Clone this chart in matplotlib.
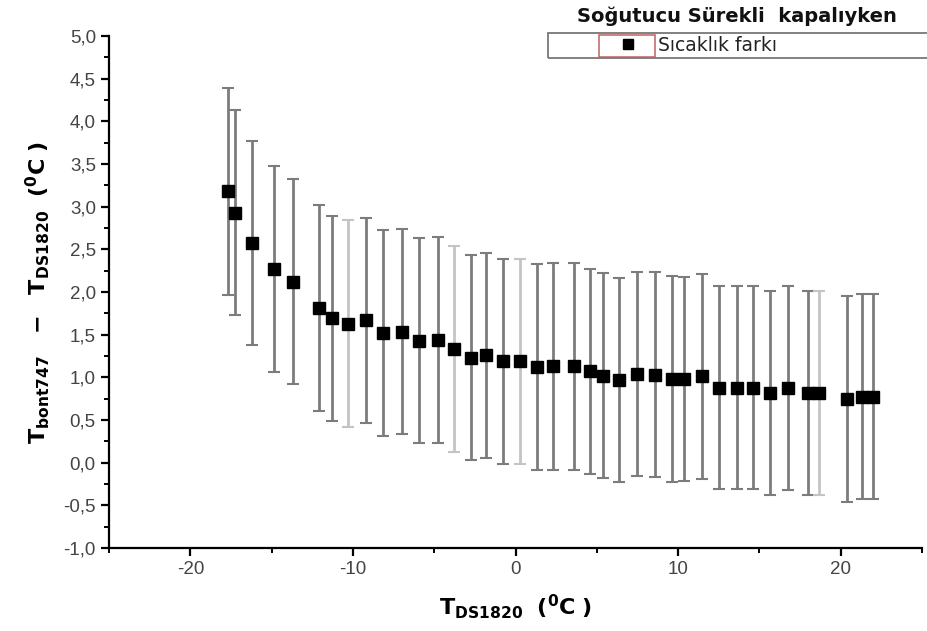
import numpy as np
import matplotlib.pyplot as plt
from matplotlib.ticker import MultipleLocator, FuncFormatter
from matplotlib.patches import Rectangle

plt.rcParams['mathtext.fontset'] = 'custom'
plt.rcParams['mathtext.bf'] = 'DejaVu Sans:bold'
plt.rcParams['mathtext.rm'] = 'DejaVu Sans:bold'

# T_DS1820 (C) and temperature difference
t_ds = [-17.7, -17.28, -16.2, -14.85, -13.67, -12.1, -11.27, -10.28, -9.18, -8.13,
        -6.96, -5.93, -4.75, -3.77, -2.73, -1.81, -0.78, 0.25, 1.35, 2.3,
        3.6, 4.61, 5.39, 6.36, 7.49, 8.58, 9.61, 10.37, 11.46, 12.5,
        13.62, 14.59, 15.68, 16.75, 17.99, 18.66, 20.37, 21.34, 22.0]
fark = [3.18, 2.93, 2.575, 2.27, 2.12, 1.81, 1.69, 1.63, 1.67, 1.52,
        1.535, 1.43, 1.44, 1.33, 1.23, 1.26, 1.19, 1.19, 1.12, 1.13,
        1.13, 1.07, 1.02, 0.97, 1.04, 1.03, 0.98, 0.98, 1.01, 0.88,
        0.88, 0.88, 0.82, 0.87, 0.82, 0.82, 0.745, 0.775, 0.775]
hata = [1.21, 1.205, 1.2, 1.21, 1.2, 1.205, 1.205, 1.21, 1.2, 1.205,
        1.2, 1.205, 1.205, 1.205, 1.2, 1.2, 1.2, 1.2, 1.21, 1.21,
        1.21, 1.2, 1.2, 1.195, 1.2, 1.2, 1.205, 1.195, 1.2, 1.19,
        1.19, 1.19, 1.195, 1.195, 1.195, 1.195, 1.21, 1.2, 1.2]

x = np.array(t_ds)
y = np.array(fark)
e = np.array(hata)

# a few bars are drawn fainter in the original
soluk = np.zeros(len(x), dtype=bool)
soluk[[7, 13, 17, 35]] = True

fig = plt.figure(figsize=(9.28, 6.31), dpi=100)
ax = fig.add_axes([0.1175, 0.1315, 0.876, 0.8115])

for mask, bar_c, cap_c in [(~soluk, '#7c7c7c', '#3a3a3a'), (soluk, '#c4c4c4', '#9a9a9a')]:
    eb = ax.errorbar(x[mask], y[mask], yerr=e[mask], fmt='none', ecolor=bar_c,
                     elinewidth=2.0, capsize=4.5, capthick=1.5)
    for cl in eb[1]:
        cl.set_color(cap_c)

ax.plot(x, y, 's', color='black', markersize=9, label='Sıcaklık farkı', zorder=5)

ax.set_xlim(-25, 25)
ax.set_ylim(-1, 5)
ax.xaxis.set_major_locator(MultipleLocator(10))
ax.xaxis.set_minor_locator(MultipleLocator(5))
ax.yaxis.set_major_locator(MultipleLocator(0.5))
ax.yaxis.set_minor_locator(MultipleLocator(0.25))
ax.yaxis.set_major_formatter(FuncFormatter(lambda v, p: f'{v:.1f}'.replace('.', ',')))
ax.xaxis.set_major_formatter(FuncFormatter(lambda v, p: f'{v:.0f}'))

ax.spines['top'].set_visible(False)
ax.spines['right'].set_visible(False)
for s in ['left', 'bottom']:
    ax.spines[s].set_linewidth(1.6)
ax.tick_params(which='major', direction='out', length=6, width=1.6,
               labelsize=13.5, labelcolor='#444444')
ax.tick_params(which='minor', direction='out', length=3.5, width=1.4)
for lab in ax.get_xticklabels() + ax.get_yticklabels():
    lab.set_family('Liberation Sans')

ax.set_xlabel(r'$\mathbf{T_{DS1820}}$  $\mathbf{(^0C\ )}$', fontsize=16, labelpad=10)
ax.set_ylabel(r'$\mathbf{T_{bont747}}$   $\mathbf{-}$   $\mathbf{T_{DS1820}}$  $\mathbf{(^0C\ )}$',
              fontsize=16, labelpad=8)

# legend box like the original
fig.text(737 / 928, 1 - 16 / 631, 'Soğutucu Sürekli  kapalıyken', ha='center', va='center',
         fontsize=14, fontweight='bold', color='#111111')
fig.patches.append(Rectangle((548 / 928, 1 - 58 / 631), 390 / 928, 25 / 631,
                             transform=fig.transFigure, fill=False,
                             edgecolor='#777777', linewidth=1.3))
fig.patches.append(Rectangle((599 / 928, 1 - 56.5 / 631), 56 / 928, 22 / 631,
                             transform=fig.transFigure, fill=False,
                             edgecolor='#c06060', linewidth=1.1))
leg = ax.legend(loc='center left', bbox_to_anchor=(606 / 928, 1 - 45.5 / 631),
                bbox_transform=fig.transFigure, frameon=False, fontsize=13.5,
                handlelength=1.3, handletextpad=1.0, borderpad=0, markerscale=0.8)
for t in leg.get_texts():
    t.set_color('#222222')

fig.savefig('out.png', dpi=100)
